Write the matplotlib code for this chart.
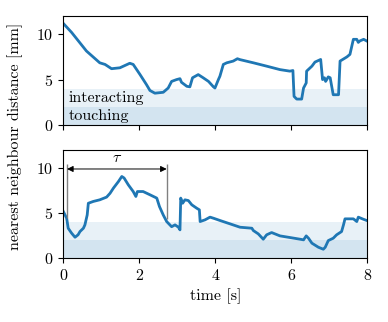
import matplotlib
matplotlib.use("Agg")
import matplotlib.pyplot as plt

plt.rcParams['font.family'] = 'serif'
plt.rcParams['font.serif'] = ['cmr10', 'DejaVu Serif']
plt.rcParams['mathtext.fontset'] = 'cm'
plt.rcParams['axes.formatter.use_mathtext'] = True
plt.rcParams['font.size'] = 11.5

# top trace: time [s], distance [mm]
t_top = [0, 0.22, 0.61, 0.96, 1.1, 1.27, 1.49, 1.75, 1.84, 2.02, 2.19, 2.28, 2.41,
         2.63, 2.76, 2.85, 2.98, 3.07, 3.11, 3.25, 3.33, 3.4, 3.55, 3.68, 3.82, 3.95,
         3.99, 4.08, 4.12, 4.21, 4.3, 4.47, 4.58, 4.65, 5.0, 5.35, 5.7, 5.96, 6.04,
         6.07, 6.14, 6.27, 6.32, 6.39, 6.4, 6.54, 6.62, 6.77, 6.82, 6.87, 6.9, 6.93,
         6.97, 7.02, 7.06, 7.1, 7.24, 7.28, 7.46, 7.54, 7.63, 7.72, 7.76, 7.8, 7.9, 7.98]
d_top = [11.2, 10.2, 8.15, 6.85, 6.67, 6.2, 6.3, 6.8, 6.67, 5.55, 4.44, 3.8, 3.5,
         3.6, 4.07, 4.8, 5.0, 5.1, 4.7, 4.26, 4.2, 5.2, 5.55, 5.2, 4.8, 4.2,
         4.07, 5.0, 5.37, 6.67, 6.85, 7.04, 7.3, 7.2, 6.85, 6.48, 6.1, 5.93, 6.0,
         3.15, 2.85, 2.85, 4.07, 4.63, 5.93, 6.48, 6.93, 7.22, 5.0, 5.2, 4.8, 5.0,
         5.3, 5.2, 4.26, 3.33, 3.33, 7.04, 7.5, 7.78, 9.44, 9.44, 9.1, 9.26, 9.44, 9.26]

# bottom trace
t_bot = [0, 0.09, 0.13, 0.22, 0.31, 0.39, 0.44, 0.53, 0.57, 0.63, 0.66, 0.79, 0.96,
         1.14, 1.23, 1.32, 1.45, 1.54, 1.6, 1.71, 1.84, 1.91, 1.95, 2.1, 2.28, 2.46,
         2.53, 2.63, 2.72, 2.85, 2.94, 3.03, 3.07, 3.09, 3.14, 3.2, 3.29, 3.38, 3.51,
         3.58, 3.6, 3.73, 3.86, 3.95, 4.12, 4.39, 4.65, 4.96, 5.0, 5.13, 5.26, 5.35,
         5.48, 5.7, 5.96, 6.23, 6.32, 6.39, 6.45, 6.54, 6.71, 6.84, 6.89, 6.97, 7.1,
         7.19, 7.32, 7.37, 7.41, 7.63, 7.72, 7.76, 7.89, 7.98]
d_bot = [5.2, 4.44, 3.33, 2.78, 2.33, 2.6, 2.96, 3.33, 3.7, 4.8, 6.1, 6.3, 6.48,
         6.78, 7.2, 7.78, 8.5, 9.07, 8.9, 8.15, 7.4, 6.85, 7.4, 7.4, 7.04, 6.67,
         5.74, 4.8, 4.07, 3.5, 3.7, 3.44, 3.15, 6.67, 6.1, 6.48, 6.4, 5.93, 5.55,
         5.37, 4.07, 4.26, 4.56, 4.44, 4.19, 3.81, 3.44, 3.33, 3.07, 2.7, 2.11, 2.6,
         2.85, 2.48, 2.3, 2.11, 2.04, 2.48, 2.22, 1.67, 1.22, 1.0, 1.22, 1.96, 2.22,
         2.6, 2.96, 3.7, 4.37, 4.37, 4.07, 4.56, 4.33, 4.19]

tau_start = 0.1
tau_end = 2.72
touch_lim = 2
interact_lim = 4

fig = plt.figure(figsize=(3.88, 3.22), dpi=100)
ax1 = fig.add_axes([0.163, 0.612, 0.784, 0.338])
ax2 = fig.add_axes([0.163, 0.198, 0.784, 0.336])

for ax, t, d in [(ax1, t_top, d_top), (ax2, t_bot, d_bot)]:
    ax.axhspan(0, interact_lim, color='C0', alpha=0.1, lw=0)
    ax.axhspan(0, touch_lim, color='C0', alpha=0.1, lw=0)
    ax.plot(t, d, color='C0', lw=2)
    ax.set_xlim(0, 8)
    ax.set_ylim(0, 12)
    ax.set_yticks([0, 5, 10])
    ax.set_xticks([0, 2, 4, 6, 8])

ax1.tick_params(labelbottom=False)
ax1.text(0.15, 3.0, 'interacting', va='center')
ax1.text(0.15, 1.0, 'touching', va='center')

# tau marker
ax2.vlines([tau_start], 4.5, 10.4, color='grey', lw=1)
ax2.vlines([tau_end], 4.3, 10.4, color='grey', lw=1)
ax2.annotate('', xy=(tau_start, 9.9), xytext=(tau_end, 9.9),
             arrowprops=dict(arrowstyle='<|-|>', color='k', lw=0.7,
                             shrinkA=0, shrinkB=0, mutation_scale=9))
ax2.text((tau_start + tau_end) / 2, 10.3, r'$\tau$', ha='center', va='bottom')
ax2.set_xlabel('time [s]')

fig.text(0.04, 0.575, 'nearest neighbour distance [mm]', rotation=90,
         ha='center', va='center')

fig.savefig('out.png', dpi=100)
